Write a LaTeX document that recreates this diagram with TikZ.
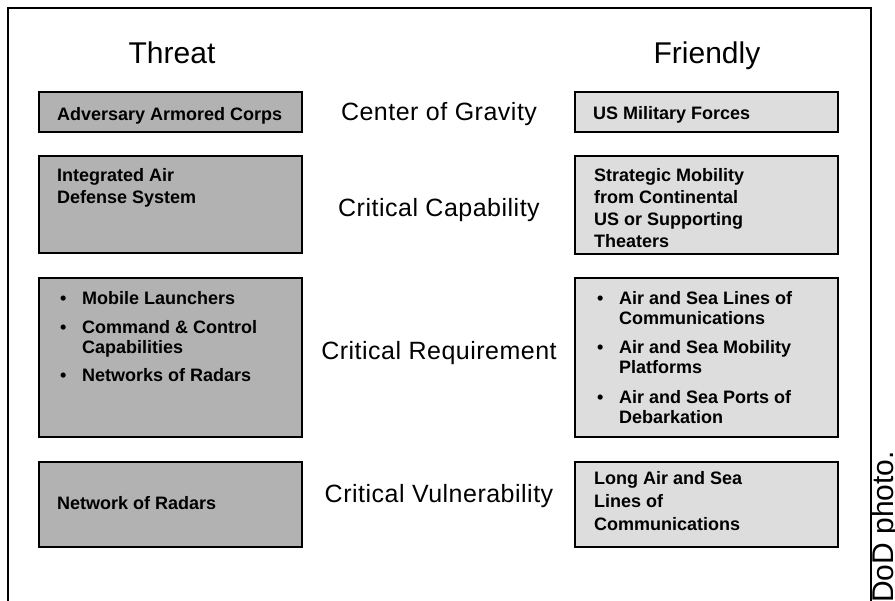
\documentclass[tikz,border=0pt]{standalone}
\usepackage{fontspec}
\setmainfont{Liberation Sans}
\newfontfamily\midfont[LetterSpace=2]{Liberation Sans}

\definecolor{thrgray}{HTML}{B2B2B2}
\definecolor{frdgray}{HTML}{DDDDDD}

\newcommand{\bul}{\makebox[22pt][l]{\textbullet}}

\tikzset{
	thrbox/.style={draw=black, line width=2.5pt, fill=thrgray},
	frdbox/.style={draw=black, line width=2.5pt, fill=frdgray},
	boxtext/.style={anchor=base west, inner sep=0pt, font=\fontsize{18}{22}\selectfont\bfseries},
	listtext/.style={anchor=base west, inner sep=0pt, font=\fontsize{18}{20}\selectfont\bfseries},
	midtext/.style={anchor=base, inner sep=0pt, font=\fontsize{25}{30}\selectfont\midfont},
	headtext/.style={anchor=base, inner sep=0pt, font=\fontsize{30}{36}\selectfont}
}

\begin{document}
\begin{tikzpicture}[x=1pt, y=-1pt]
		\useasboundingbox (0,0) rectangle (895,601);
		\draw[line width=2pt] (8,601) -- (8,8) -- (871,8) -- (871,601);
		\node[headtext] (threat) at (172,64) {Threat};
		\node[headtext] (friendly) at (707,64) {Friendly};
		% threat side
		\draw[thrbox] (39,92) rectangle (302,132);
		\draw[thrbox] (39,156) rectangle (302,253);
		\draw[thrbox] (39,278) rectangle (302,437);
		\draw[thrbox] (39,462) rectangle (302,547);
		\node[boxtext] (thrcog) at (57,121) {Adversary Armored Corps};
		\node[boxtext] (thrcap) at (57,182) {\begin{tabular}[t]{@{}l@{}}Integrated Air\\Defense System\end{tabular}};
		\node[listtext] (thrreq) at (60,305) {\begin{tabular}[t]{@{}l@{}l@{}}
			\bul & Mobile Launchers\\[9pt]
			\bul & Command \& Control\\
			     & Capabilities\\[8pt]
			\bul & Networks of Radars
		\end{tabular}};
		\node[boxtext] (thrvul) at (57,510) {Network of Radars};
		% friendly side
		\draw[frdbox] (575,92) rectangle (838,132);
		\draw[frdbox] (575,156) rectangle (838,254);
		\draw[frdbox] (575,278) rectangle (838,437);
		\draw[frdbox] (575,462) rectangle (838,547);
		\node[boxtext] (frdcog) at (593,120) {US Military Forces};
		\node[boxtext] (frdcap) at (594,182) {\begin{tabular}[t]{@{}l@{}}Strategic Mobility\\from Continental\\US or Supporting\\Theaters\end{tabular}};
		\node[listtext] (frdreq) at (597,305) {\begin{tabular}[t]{@{}l@{}l@{}}
			\bul & Air and Sea Lines of\\
			     & Communications\\[9pt]
			\bul & Air and Sea Mobility\\
			     & Platforms\\[10pt]
			\bul & Air and Sea Ports of\\
			     & Debarkation
		\end{tabular}};
		\node[boxtext, font=\fontsize{18}{23}\selectfont\bfseries] (frdvul) at (594,485) {\begin{tabular}[t]{@{}l@{}}Long Air and Sea\\Lines of\\Communications\end{tabular}};
		% middle column
		\node[midtext] (cog) at (439,121) {Center of Gravity};
		\node[midtext] (cap) at (439,217) {Critical Capability};
		\node[midtext] (req) at (439,360) {Critical Requirement};
		\node[midtext] (vul) at (439,503) {Critical Vulnerability};
		\node[rotate=90, anchor=base west, inner sep=0pt, font=\fontsize{30}{36}\selectfont] (dodnote) at (893,603) {DoD photo.};
	\end{tikzpicture}
\end{document}
